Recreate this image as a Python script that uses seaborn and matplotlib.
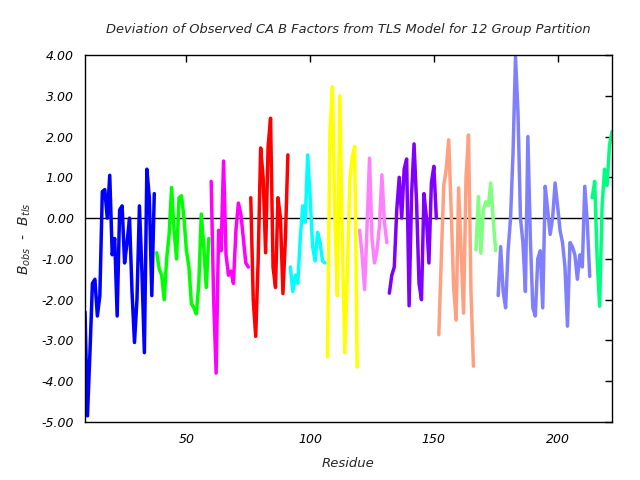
import numpy as np
import pandas as pd
import matplotlib
matplotlib.use("Agg")
import matplotlib.pyplot as plt
import seaborn as sns

# ---- data ----
blue_res = list(range(9, 38))
blue_val = [-2.3, -4.85, -3.3, -1.6, -1.5, -2.4, -1.9, 0.65, 0.7, 0.0, 1.05, -0.9, -0.5, -2.4,
            0.2, 0.3, -1.1, -0.6, 0.0, -1.8, -3.05, -2.0, 0.3, -1.3, -3.3, 1.2, 0.5, -1.9, 0.6]
green_res = list(range(38, 60))
green_val = [-0.85, -1.25, -1.4, -2.0, -1.0, -0.4, 0.75, -0.3, -1.0, 0.5, 0.55, 0.0, -0.8,
             -1.2, -2.1, -2.2, -2.35, -1.6, 0.1, -0.7, -1.7, -0.5]
magenta_res = list(range(60, 76))
magenta_val = [0.9, -2.0, -3.8, -0.3, -0.8, 1.4, -0.9, -1.4, -1.3, -1.6, -0.3, 0.37, 0.1,
               -0.5, -1.1, -1.2]
red_res = list(range(76, 92))
red_val = [0.5, -2.0, -2.9, -1.0, 1.72, 1.0, -0.85, 1.75, 2.45, -1.2, -1.7, 0.5, 0.0, -1.85,
           -0.5, 1.55]
cyan_res = list(range(92, 107))
cyan_val = [-1.2, -1.8, -1.4, -1.6, -0.5, 0.3, -0.1, 1.55, 0.5, -0.7, -1.05, -0.35, -0.6,
            -1.05, -1.1]
yellow_res = list(range(107, 120))
yellow_val = [-3.4, 2.1, 3.22, 0.0, -1.9, 3.0, -0.5, -3.3, -1.5, 0.9, 1.5, 1.76, -3.65]
violet_res = list(range(120, 132))
violet_val = [-0.3, -0.9, -1.75, -0.2, 1.47, -0.5, -1.1, -0.8, -0.2, 1.06, -0.1, -0.6]
purple_res = list(range(132, 152))
purple_val = [-1.84, -1.4, -1.2, 0.2, 1.0, 0.0, 1.2, 1.45, -2.15, 0.6, 1.82, 0.4, -1.6, -2.0,
              0.6, 0.0, -1.1, 0.86, 1.27, 0.0]
salmon_res = list(range(152, 167))
salmon_val = [-2.86, -1.0, 0.8, 1.2, 1.92, 0.2, -1.7, -2.5, 0.74, -0.8, -2.33, 1.0, 2.04,
              -1.8, -3.63]
lgreen_res = list(range(167, 176))
lgreen_val = [-0.78, 0.53, -0.86, 0.2, 0.4, 0.3, 0.86, -0.05, -0.8]
slate_res = list(range(176, 214))
slate_val = [-1.9, -0.7, -1.8, -2.2, -0.8, 0.0, 1.6, 3.95, 2.6, 0.0, -0.6, -1.8, 2.0, -0.5,
             -2.2, -2.4, -1.0, -0.8, -2.2, 0.78, 0.2, -0.4, 0.0, 0.86, 0.3, -0.3, -0.6, -1.2,
             -2.65, -0.6, -0.7, -0.9, -1.5, -0.9, -1.2, 0.78, -0.1, -1.43]
spring_res = list(range(214, 223))
spring_val = [0.5, 0.9, -1.0, -2.16, 0.3, 1.2, 0.8, 1.8, 2.12]

groups = ["g1", "g2", "g3", "g4", "g5", "g6", "g7", "g8", "g9", "g10", "g11", "g12"]
colors = ["#0000ff", "#00ff00", "#ff00ff", "#ff0000", "#00ffff", "#ffff00",
          "#ff80ff", "#8000ff", "#ffa080", "#80ff80", "#8080ff", "#00ff80"]
res_lists = [blue_res, green_res, magenta_res, red_res, cyan_res, yellow_res,
             violet_res, purple_res, salmon_res, lgreen_res, slate_res, spring_res]
val_lists = [blue_val, green_val, magenta_val, red_val, cyan_val, yellow_val,
             violet_val, purple_val, salmon_val, lgreen_val, slate_val, spring_val]

rows = []
for g, rs, vs in zip(groups, res_lists, val_lists):
    for r, v in zip(rs, vs):
        rows.append((g, r, v))
df = pd.DataFrame(rows, columns=["group", "residue", "dev"])

sns.set_style("white")
plt.rcParams["font.family"] = ["DejaVu Sans"]
plt.rcParams["font.style"] = "italic"
plt.rcParams["mathtext.fontset"] = "dejavusans"

fig = plt.figure(figsize=(6.4, 4.8), dpi=100)
ax = fig.add_axes([85 / 640, 1 - 422 / 480, (612 - 85) / 640, (422 - 55) / 480])

ax.axhline(0, color="black", lw=1.0, zorder=1)
sns.lineplot(data=df, x="residue", y="dev", hue="group", hue_order=groups,
             palette=dict(zip(groups, colors)), linewidth=2.5, legend=False,
             estimator=None, sort=False, ax=ax, zorder=2)

ax.set_xlim(9, 222)
ax.set_ylim(-5, 4)
ax.set_xticks([50, 100, 150, 200])
ax.set_yticks(np.arange(-5, 5, 1))
ax.set_yticklabels([f"{v:.2f}" for v in np.arange(-5, 5, 1)])
ax.tick_params(direction="in", length=5, width=1, top=True, right=True,
               labelsize=9, pad=8, colors="black")
for lab in ax.get_xticklabels() + ax.get_yticklabels():
    lab.set_fontstyle("italic")
for s in ax.spines.values():
    s.set_color("black")
    s.set_linewidth(1.0)

ax.set_xlabel("Residue", fontsize=9.5, fontstyle="italic", labelpad=8)
ax.set_ylabel(r"$B_{obs}$  -  $B_{tls}$", fontsize=10, labelpad=6)
ax.set_title("Deviation of Observed CA B Factors from TLS Model for 12 Group Partition",
             fontsize=9.4, fontstyle="italic", pad=16)

fig.savefig("out.png", dpi=100)
